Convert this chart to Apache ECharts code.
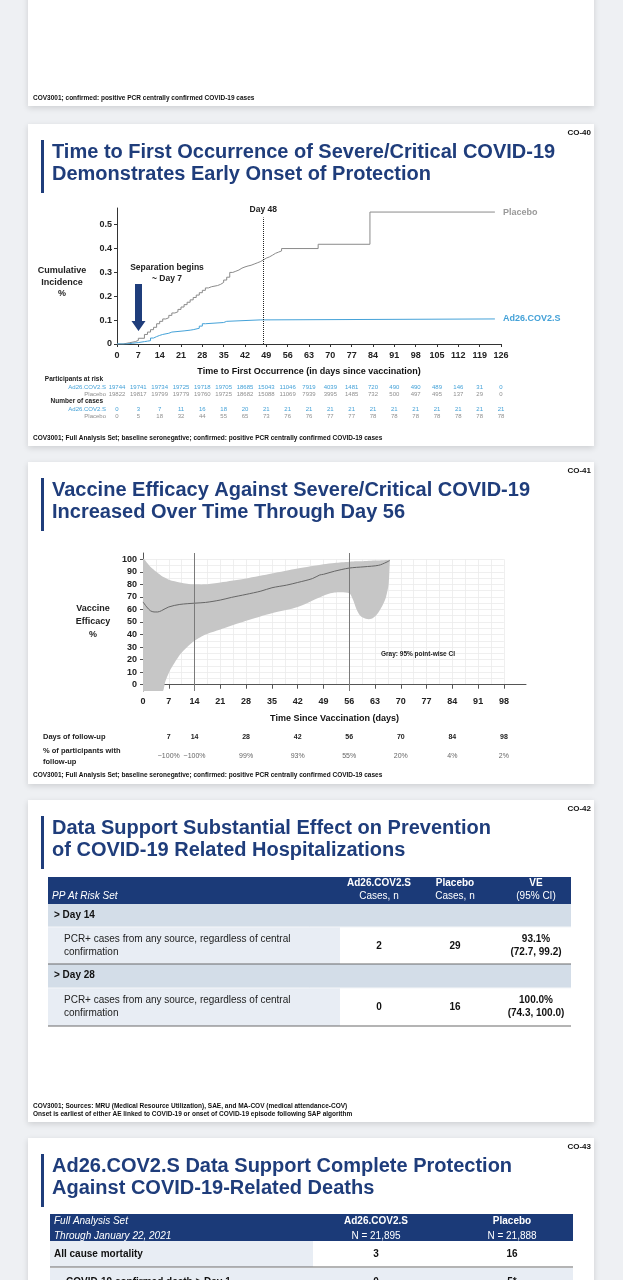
<!DOCTYPE html>
<html><head><meta charset="utf-8">
<script src="https://cdn.jsdelivr.net/npm/echarts@6/dist/echarts.min.js"></script>
<style>html,body{margin:0;padding:0;background:#eef0f3}#c{width:623px;height:1280px}</style>
</head><body><div id="c"></div>
<script>
// ---------- DATA ----------
const kmTicks = [0,7,14,21,28,35,42,49,56,63,70,77,84,91,98,105,112,119,126];
const kmYTicks = [0,0.1,0.2,0.3,0.4,0.5];
const placeboDays = [0,2,4,6,7,9,10,11,12,13,14,15,16,17,18,19,20,21,22,23,24,25,26,27,28,29,30,31,33,34,35,36,37,38,39,40,41,42,43,44,45,46,47,48,49,50,51,52,53,54,66,83,124];
const placeboCI   = [0,0.005,0.01,0.015,0.024,0.04,0.05,0.06,0.07,0.085,0.095,0.105,0.11,0.12,0.13,0.135,0.145,0.155,0.165,0.175,0.185,0.195,0.205,0.215,0.225,0.235,0.24,0.245,0.25,0.258,0.268,0.28,0.30,0.305,0.31,0.318,0.323,0.327,0.33,0.335,0.34,0.345,0.352,0.36,0.365,0.372,0.38,0.385,0.39,0.40,0.418,0.553,0.553];
const ad26Days = [0,3,5,7,9,10,11,12,13,14,15,17,18,22,24,25,27,28,29,35,36,47,124];
const ad26CI   = [0,0.003,0.006,0.01,0.012,0.014,0.025,0.031,0.036,0.04,0.045,0.05,0.055,0.058,0.06,0.066,0.075,0.085,0.09,0.095,0.101,0.105,0.105];
const riskAd26    = [19744,19741,19734,19725,19718,19705,18685,15043,11046,7919,4039,1481,720,490,490,489,146,31,0];
const riskPlacebo = [19822,19817,19799,19779,19760,19725,18682,15088,11069,7939,3995,1485,732,500,497,495,137,29,0];
const casesAd26    = [0,3,7,11,16,18,20,21,21,21,21,21,21,21,21,21,21,21,21];
const casesPlacebo = [0,5,18,32,44,55,65,73,76,76,77,77,78,78,78,78,78,78,78];

const veTicks = [0,7,14,21,28,35,42,49,56,63,70,77,84,91,98];
const veYTicks = [0,10,20,30,40,50,60,70,80,90,100];
const veDays   = [0,1,2,3,4,5,7,10,14,17,21,24,28,32,35,39,42,46,48,49,52,56,60,64,66,67];
const veValues = [66,62,59,58,58,59,62,64,65,65.6,67.5,69.6,72,74.6,77.3,79.4,81.5,84.6,87.5,88,90.5,93,94,95.2,97.5,99];
const ciDays  = [0,2,3.6,5.4,6,7.2,10,12,14,17,21,28,35,42,49,52,56,57,58,59,60.5,62,63.5,65,66,66.7,67];
const ciUpper = [100,94,90,86,85.3,83.5,81.5,80.5,80,80,81.5,84.7,88.6,92.6,96,97,98,98.2,98.4,98.5,98.7,98.9,99,99.2,99.4,99.5,99.6];
const ciLower = [-5,-5,-5,-5,2,10.6,23.8,30,35,40,44,51,57,62,71,73.5,73,68,60,55,52.5,52.5,56,63,70,80,97];
const followDays = [7,14,28,42,56,70,84,98];
const followPct  = ['~100%','~100%','99%','93%','55%','20%','4%','2%'];

const hospHeadTop = ['Ad26.COV2.S','Placebo','VE'];
const hospHeadSub = ['Cases, n','Cases, n','(95% CI)'];
const hospGroups  = ['> Day 14','> Day 28'];
const hospLabel   = ['PCR+ cases from any source, regardless of central','confirmation'];
const hospAd26    = ['2','0'];
const hospPlacebo = ['29','16'];
const hospVE      = ['93.1%','100.0%'];
const hospCI      = ['(72.7, 99.2)','(74.3, 100.0)'];

const deathHeadTop = ['Ad26.COV2.S','Placebo'];
const deathHeadSub = ['N = 21,895','N = 21,888'];
const deathRows    = ['All cause mortality','COVID-19 confirmed death > Day 1'];
const deathAd26    = ['3','0'];
const deathPlacebo = ['16','5*'];

// ---------- HELPERS ----------
const FF = "'Liberation Sans', Arial, Helvetica, sans-serif";
const NAVY = '#1f3d7b';
const BLUE = '#45a2d8';
const GRAY = '#8f8f8f';
const g = [];
function T(x,y,text,o){o=o||{};g.push({type:'text',x:x,y:y,silent:true,z:o.z||5,style:{text:text,fill:o.c||'#222',fontSize:o.s||10,fontWeight:o.w||'normal',fontStyle:o.i?'italic':'normal',fontFamily:FF,align:o.a||'left',verticalAlign:'middle'}});}
function R(x,y,w,h,fill,z,extra){g.push({type:'rect',silent:true,z:z==null?1:z,shape:{x:x,y:y,width:w,height:h},style:Object.assign({fill:fill},extra||{})});}
function L(x1,y1,x2,y2,c,w){g.push({type:'line',silent:true,z:3,shape:{x1:x1,y1:y1,x2:x2,y2:y2},style:{stroke:c,lineWidth:w||1}});}

// cards
const cardShadow = {shadowBlur:6,shadowColor:'rgba(0,0,0,0.14)',shadowOffsetY:2};
R(28,-20,566,126,'#fff',-5,cardShadow);
[124,462,800,1138].forEach(t=>R(28,t,566,322,'#fff',-5,cardShadow));
T(33,98,'COV3001; confirmed: positive PCR centrally confirmed COVID-19 cases',{s:6.5,w:'bold',c:'#111'});

function slideTitle(top,label,lines){
  T(591,top+9,label,{s:8,w:'bold',a:'right',c:'#111'});
  R(41,top+16,3,53,NAVY,2);
  lines.forEach((ln,i)=>T(52,top+28+22*i,ln,{s:20,w:'bold',c:NAVY}));
}
slideTitle(124,'CO-40',['Time to First Occurrence of Severe/Critical COVID-19','Demonstrates Early Onset of Protection']);
slideTitle(462,'CO-41',['Vaccine Efficacy Against Severe/Critical COVID-19','Increased Over Time Through Day 56']);
slideTitle(800,'CO-42',['Data Support Substantial Effect on Prevention','of COVID-19 Related Hospitalizations']);
slideTitle(1138,'CO-43',['Ad26.COV2.S Data Support Complete Protection','Against COVID-19-Related Deaths']);

// CO-40 annotations
T(62,271,'Cumulative',{s:9,w:'bold',a:'center',c:'#222'});
T(62,283,'Incidence',{s:9,w:'bold',a:'center',c:'#222'});
T(62,294,'%',{s:9,w:'bold',a:'center',c:'#222'});
T(167,268,'Separation begins',{s:8.5,w:'bold',a:'center',c:'#222'});
T(167,279,'~ Day 7',{s:8.5,w:'bold',a:'center',c:'#222'});
g.push({type:'polygon',silent:true,z:5,shape:{points:[[135,284],[142,284],[142,321],[145.5,321],[138.5,331],[131.5,321],[135,321]]},style:{fill:NAVY}});
T(103,379,'Participants at risk',{s:6.5,w:'bold',a:'right',c:'#222'});
T(106,387,'Ad26.COV2.S',{s:6,a:'right',c:BLUE});
T(106,394,'Placebo',{s:6,a:'right',c:GRAY});
T(103,401,'Number of cases',{s:6.5,w:'bold',a:'right',c:'#222'});
T(106,409,'Ad26.COV2.S',{s:6,a:'right',c:BLUE});
T(106,416,'Placebo',{s:6,a:'right',c:GRAY});
T(33,438,'COV3001; Full Analysis Set; baseline seronegative; confirmed: positive PCR centrally confirmed COVID-19 cases',{s:6.5,w:'bold',c:'#111'});

// CO-41 annotations
T(93,609,'Vaccine',{s:9,w:'bold',a:'center',c:'#222'});
T(93,622,'Efficacy',{s:9,w:'bold',a:'center',c:'#222'});
T(93,635,'%',{s:9,w:'bold',a:'center',c:'#222'});
T(418,654,'Gray: 95% point-wise CI',{s:6.5,w:'bold',a:'center',c:'#222'});
T(43,737,'Days of follow-up',{s:7.5,w:'bold',c:'#222'});
T(43,751,'% of participants with',{s:7.5,w:'bold',c:'#222'});
T(43,762,'follow-up',{s:7.5,w:'bold',c:'#222'});
T(33,775,'COV3001; Full Analysis Set; baseline seronegative; confirmed: positive PCR centrally confirmed COVID-19 cases',{s:6.5,w:'bold',c:'#111'});

// CO-42 table
(function(){
  const x0=48, x1=571, cols=[379,455,536], split=340;
  R(x0,877,x1-x0,27,'#1b3a78',2);
  T(52,896,'PP At Risk Set',{s:10,i:true,c:'#fff'});
  hospHeadTop.forEach((h,i)=>{T(cols[i],883,h,{s:10,w:'bold',a:'center',c:'#fff'});T(cols[i],896,hospHeadSub[i],{s:10,a:'center',c:'#fff'});});
  const groupTops=[904,964], rowTops=[927,988], rowH=[37,38];
  hospGroups.forEach((gname,k)=>{
    R(x0,groupTops[k],x1-x0,groupTops[k]===904?23:24,'#d3dde8',2);
    T(54,groupTops[k]+11.5,gname,{s:10,w:'bold',c:'#111'});
    const rt=rowTops[k], rh=rowH[k];
    R(x0,rt,split-x0,rh,'#e8edf4',2);
    R(split,rt,x1-split,rh,'#ffffff',2);
    L(x0,rt,x1,rt,'#f4f6f9',1);
    T(64,rt+12.5,hospLabel[0],{s:10,c:'#222'});
    T(64,rt+25,hospLabel[1],{s:10,c:'#222'});
    T(cols[0],rt+19,hospAd26[k],{s:10,w:'bold',a:'center',c:'#111'});
    T(cols[1],rt+19,hospPlacebo[k],{s:10,w:'bold',a:'center',c:'#111'});
    T(cols[2],rt+12.5,hospVE[k],{s:10,w:'bold',a:'center',c:'#111'});
    T(cols[2],rt+25.5,hospCI[k],{s:10,w:'bold',a:'center',c:'#111'});
    L(x0,rt+rh,x1,rt+rh,'#6b6b6b',1.2);
  });
  T(33,1106,'COV3001; Sources: MRU (Medical Resource Utilization), SAE, and MA-COV (medical attendance-COV)',{s:6.5,w:'bold',c:'#111'});
  T(33,1114,'Onset is earliest of either AE linked to COVID-19 or onset of COVID-19 episode following SAP algorithm',{s:6.5,w:'bold',c:'#111'});
})();

// CO-43 table
(function(){
  const x0=50, x1=573, cols=[376,512], split=313;
  R(x0,1214,x1-x0,27,'#1b3a78',2);
  T(54,1221,'Full Analysis Set',{s:10,i:true,c:'#fff'});
  T(54,1236,'Through January 22, 2021',{s:10,i:true,c:'#fff'});
  deathHeadTop.forEach((h,i)=>{T(cols[i],1221,h,{s:10,w:'bold',a:'center',c:'#fff'});T(cols[i],1236,deathHeadSub[i],{s:10,a:'center',c:'#fff'});});
  R(x0,1241,split-x0,26,'#e8edf4',2);
  T(54,1254,deathRows[0],{s:10,w:'bold',c:'#111'});
  T(cols[0],1254,deathAd26[0],{s:10,w:'bold',a:'center',c:'#111'});
  T(cols[1],1254,deathPlacebo[0],{s:10,w:'bold',a:'center',c:'#111'});
  L(x0,1267,x1,1267,'#6b6b6b',1.2);
  R(x0,1268,x1-x0,30,'#e8edf4',2);
  T(66,1282,deathRows[1],{s:10,w:'bold',c:'#111'});
  T(cols[0],1282,deathAd26[1],{s:10,w:'bold',a:'center',c:'#111'});
  T(cols[1],1282,deathPlacebo[1],{s:10,w:'bold',a:'center',c:'#111'});
})();

// ---------- AXES ----------
const lblBase = {fontFamily:FF,fontWeight:'bold',fontSize:9,color:'#222'};
function rowAxis(gi,max,labelFn,style){
  return {gridIndex:gi,type:'value',min:0,max:max,interval:7,axisLine:{show:false},axisTick:{show:false},splitLine:{show:false},
    axisLabel:Object.assign({margin:0,verticalAlign:'middle',fontFamily:FF,formatter:labelFn},style)};
}
const kmLabel = arr => v => { const i=kmTicks.indexOf(Math.round(v)); return i>=0? String(arr[i]) : ''; };
const fuLabel = arr => v => { const i=followDays.indexOf(Math.round(v)); return i>=0? String(arr[i]) : ''; };

const grids = [
  {left:117,top:208,width:384,height:136},
  {left:117,top:386,width:384,height:1},
  {left:117,top:393,width:384,height:1},
  {left:117,top:408,width:384,height:1},
  {left:117,top:415,width:384,height:1},
  {left:143,top:553,width:383,height:138},
  {left:143,top:559.3,width:360.9,height:125.4},
  {left:143,top:736,width:383,height:1},
  {left:143,top:755,width:383,height:1}
];
const xAxes = [
  {gridIndex:0,type:'value',min:0,max:126,interval:7,
   axisLine:{lineStyle:{color:'#333',width:1}},axisTick:{length:3,lineStyle:{color:'#333'}},splitLine:{show:false},
   axisLabel:Object.assign({margin:7},lblBase),
   name:'Time to First Occurrence (in days since vaccination)',nameLocation:'middle',nameGap:23,
   nameTextStyle:{fontFamily:FF,fontWeight:'bold',fontSize:9,color:'#111'}},
  rowAxis(1,126,kmLabel(riskAd26),{fontSize:6,color:BLUE}),
  rowAxis(2,126,kmLabel(riskPlacebo),{fontSize:6,color:GRAY}),
  rowAxis(3,126,kmLabel(casesAd26),{fontSize:6,color:BLUE}),
  rowAxis(4,126,kmLabel(casesPlacebo),{fontSize:6,color:GRAY}),
  {gridIndex:5,type:'value',min:0,max:104,interval:7,
   axisLine:{lineStyle:{color:'#555',width:1}},axisTick:{length:4,customValues:veTicks,lineStyle:{color:'#555'}},splitLine:{show:false},
   axisLabel:Object.assign({margin:6,customValues:veTicks},lblBase),
   name:'Time Since Vaccination (days)',nameLocation:'middle',nameGap:23,
   nameTextStyle:{fontFamily:FF,fontWeight:'bold',fontSize:9,color:'#111'}},
  {gridIndex:6,type:'value',min:0,max:98,interval:3.5,axisLine:{show:false},axisTick:{show:false},axisLabel:{show:false},
   splitLine:{show:true,lineStyle:{color:'#ebebeb',width:0.8}}},
  rowAxis(7,104,fuLabel(followDays),{fontSize:7,fontWeight:'bold',color:'#222'}),
  rowAxis(8,104,fuLabel(followPct),{fontSize:7,color:'#666'})
];
const yAxes = [
  {gridIndex:0,type:'value',min:0,max:0.57,
   axisLine:{show:true,lineStyle:{color:'#333',width:1}},axisTick:{show:true,length:3,customValues:kmYTicks,lineStyle:{color:'#333'}},splitLine:{show:false},
   axisLabel:Object.assign({margin:5,customValues:kmYTicks,formatter:v=> v===0?'0':v.toFixed(1)},lblBase)},
  {gridIndex:1,show:false,type:'value',min:0,max:1},
  {gridIndex:2,show:false,type:'value',min:0,max:1},
  {gridIndex:3,show:false,type:'value',min:0,max:1},
  {gridIndex:4,show:false,type:'value',min:0,max:1},
  {gridIndex:5,type:'value',min:-5,max:105,
   axisLine:{show:true,lineStyle:{color:'#555',width:1}},axisTick:{show:true,length:3,customValues:veYTicks,lineStyle:{color:'#555'}},splitLine:{show:false},
   axisLabel:Object.assign({margin:6,customValues:veYTicks},lblBase)},
  {gridIndex:6,type:'value',min:0,max:100,interval:5,axisLine:{show:false},axisTick:{show:false},axisLabel:{show:false},
   splitLine:{show:true,lineStyle:{color:'#ebebeb',width:0.8}}},
  {gridIndex:7,show:false,type:'value',min:0,max:1},
  {gridIndex:8,show:false,type:'value',min:0,max:1}
];

const zip = (a,b)=>a.map((v,i)=>[v,b[i]]);
const series = [
  {name:'Placebo',type:'line',xAxisIndex:0,yAxisIndex:0,step:'end',symbol:'none',data:zip(placeboDays,placeboCI),
   lineStyle:{color:'#8a8a8a',width:1},itemStyle:{color:'#8a8a8a'},
   endLabel:{show:true,formatter:p=>p.seriesName,distance:8,fontFamily:FF,fontWeight:'bold',fontSize:9,color:'#999'},
   markLine:{silent:true,symbol:'none',lineStyle:{type:'dotted',color:'#222',width:1},
     label:{show:true,position:'end',formatter:'Day 48',distance:3,fontFamily:FF,fontWeight:'bold',fontSize:8.5,color:'#222'},
     data:[[{coord:[48,0]},{coord:[48,0.53]}]]}},
  {name:'Ad26.COV2.S',type:'line',xAxisIndex:0,yAxisIndex:0,step:'end',symbol:'none',data:zip(ad26Days,ad26CI),
   lineStyle:{color:BLUE,width:1},itemStyle:{color:BLUE},
   endLabel:{show:true,formatter:p=>p.seriesName,distance:8,fontFamily:FF,fontWeight:'bold',fontSize:9,color:BLUE}},
  {name:'95% CI',type:'custom',xAxisIndex:5,yAxisIndex:5,clip:true,z:2,
   data:ciDays.map((d,i)=>[d,ciLower[i],ciUpper[i]]),
   encode:{x:0,y:[1,2]},
   renderItem:function(params,api){
     if(params.dataIndex!==0) return null;
     const n=ciDays.length, pts=[];
     for(let i=0;i<n;i++) pts.push(api.coord([ciDays[i],ciUpper[i]]));
     for(let i=n-1;i>=0;i--) pts.push(api.coord([ciDays[i],ciLower[i]]));
     return {type:'polygon',shape:{points:pts,smooth:0.25},style:{fill:'#c6c6c6',stroke:null}};
   }},
  {name:'VE',type:'line',xAxisIndex:5,yAxisIndex:5,symbol:'none',smooth:0.3,z:4,data:zip(veDays,veValues),
   lineStyle:{color:'#666',width:1},
   markLine:{silent:true,symbol:'none',lineStyle:{type:'solid',color:'#7a7a7a',width:1},label:{show:false},
     data:[{xAxis:14},{xAxis:56}]}}
];

const chart = echarts.init(document.getElementById('c'),null,{renderer:'canvas'});
chart.setOption({
  backgroundColor:'#eef0f3',
  animation:false,
  grid:grids, xAxis:xAxes, yAxis:yAxes, series:series,
  graphic:{elements:g}
});
</script></body></html>
